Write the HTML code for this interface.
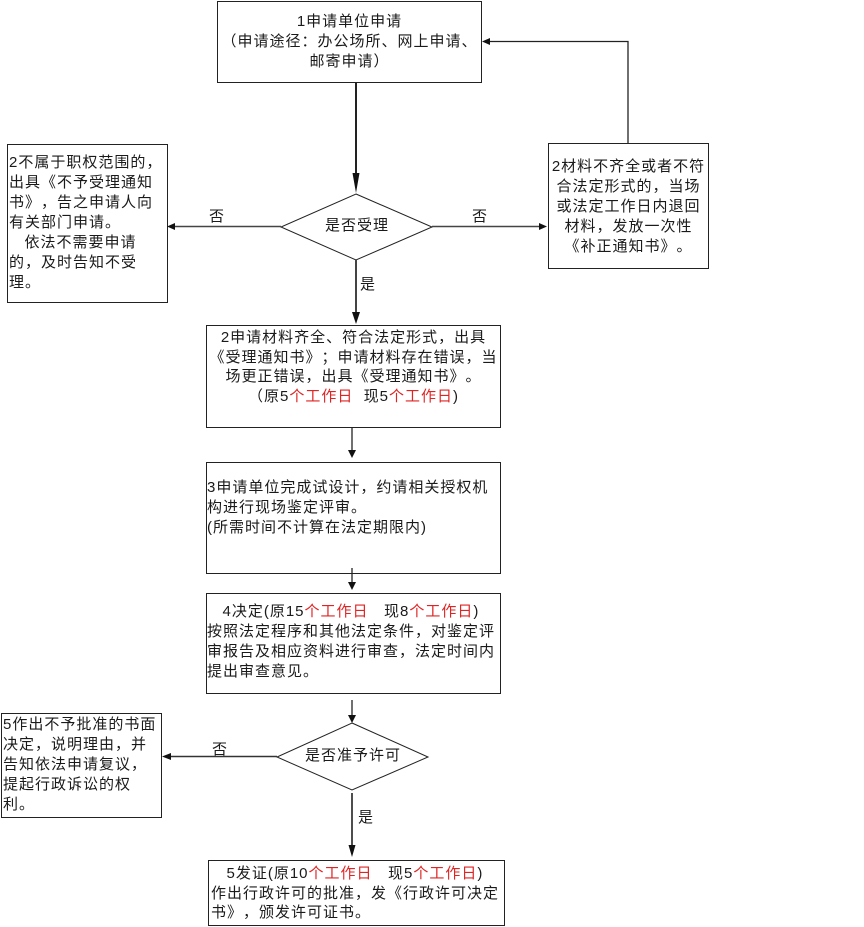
<!DOCTYPE html>
<html><head><meta charset="utf-8">
<style>
html,body{margin:0;padding:0;background:#fff;}
body{width:864px;height:927px;position:relative;overflow:hidden;font-family:"Liberation Sans","Noto Sans CJK SC",sans-serif;color:#1a1a1a;}
.t{position:absolute;font-size:15px;line-height:20px;letter-spacing:1px;white-space:nowrap;text-spacing-trim:space-all;font-kerning:none;}
.c{text-align:center;}
.r{color:#e02424;}
svg{position:absolute;left:0;top:0;}
</style></head><body>
<svg width="864" height="927" viewBox="0 0 864 927">
<g fill="#fff" stroke="#222" stroke-width="1">
<rect x="217.5" y="1.5" width="264" height="81"/>
<rect x="7.5" y="144.5" width="160" height="158"/>
<rect x="548.5" y="143.5" width="160" height="125"/>
<rect x="206.5" y="325.5" width="294" height="102"/>
<rect x="206.5" y="462.5" width="294" height="111"/>
<rect x="206.5" y="593.5" width="294" height="100"/>
<rect x="1.5" y="713.5" width="160" height="104"/>
<rect x="208.5" y="860.5" width="296" height="65"/>
<polygon points="356,194 432,227 356,260 281,227"/>
<polygon points="352,723 428,757 352,790 277,757"/>
</g>
<g stroke="#222" fill="none">
<line x1="356" y1="83" x2="356" y2="180" stroke-width="2"/>
<line x1="281" y1="226.5" x2="172" y2="226.5" stroke-width="1.5" stroke="#444"/>
<line x1="432" y1="226.5" x2="540" y2="226.5" stroke-width="1.5" stroke="#444"/>
<polyline points="628,143 628,41.5 488,41.5" stroke-width="1.3"/>
<line x1="356" y1="260" x2="356" y2="314" stroke-width="2" stroke="#444"/>
<line x1="352" y1="427" x2="352" y2="452" stroke-width="1.3"/>
<line x1="352" y1="568" x2="352" y2="584" stroke-width="1.3"/>
<line x1="352" y1="700" x2="352" y2="717" stroke-width="1.3"/>
<line x1="277" y1="756.5" x2="168" y2="756.5" stroke-width="1.5" stroke="#333"/>
<line x1="352" y1="793" x2="352" y2="848" stroke-width="1.6"/>
</g>
<g fill="#111">
<polygon points="352.5,173 359.5,173 356,193"/>
<polygon points="175,223 175,230 167,226.5"/>
<polygon points="539,223 539,230 547,226.5"/>
<polygon points="490,38 490,45 482,41.5"/>
<polygon points="352,312 360,312 356,324"/>
<polygon points="348,450 356,450 352,458"/>
<polygon points="348,582 356,582 352,590"/>
<polygon points="348,715 356,715 352,723"/>
<polygon points="171,753 171,760 162,756.5"/>
<polygon points="348.5,845 355.5,845 352,857"/>
</g>
</svg>

<div class="t c" style="left:217px;top:12px;width:265px;">1申请单位申请<br>（申请途径：办公场所、网上申请、<br>邮寄申请）</div>

<div class="t" style="left:9px;top:153px;">2不属于职权范围的，<br>出具《不予受理通知<br>书》，告之申请人向<br>有关部门申请。<br>&nbsp;&nbsp;&nbsp;依法不需要申请<br>的，及时告知不受<br>理。</div>

<div class="t c" style="left:548px;top:157px;width:161px;">2材料不齐全或者不符<br>合法定形式的，当场<br>或法定工作日内退回<br>材料，发放一次性<br>《补正通知书》。</div>

<div class="t" style="left:209px;top:207px;">否</div>
<div class="t" style="left:472px;top:207px;">否</div>
<div class="t" style="left:360px;top:275px;">是</div>
<div class="t c" style="left:281px;top:216px;width:152px;">是否受理</div>

<div class="t c" style="left:206px;top:328px;width:295px;line-height:19.7px;">2申请材料齐全、符合法定形式，出具<br>《受理通知书》；申请材料存在错误，当<br>场更正错误，出具《受理通知书》。<br>（原5<span class="r">个工作日</span>&nbsp; 现5<span class="r">个工作日</span>)</div>

<div class="t" style="left:207px;top:478px;">3申请单位完成试设计，约请相关授权机<br>构进行现场鉴定评审。<br>(所需时间不计算在法定期限内)</div>

<div class="t" style="left:207px;top:602px;">&nbsp;&nbsp;&nbsp;4决定(原15<span class="r">个工作日</span>&nbsp;&nbsp; 现8<span class="r">个工作日</span>)<br>按照法定程序和其他法定条件，对鉴定评<br>审报告及相应资料进行审查，法定时间内<br>提出审查意见。</div>

<div class="t c" style="left:277px;top:746px;width:152px;">是否准予许可</div>
<div class="t" style="left:212px;top:740px;">否</div>
<div class="t" style="left:358px;top:808px;">是</div>

<div class="t" style="left:3px;top:715px;">5作出不予批准的书面<br>决定，说明理由，并<br>告知依法申请复议，<br>提起行政诉讼的权<br>利。</div>

<div class="t" style="left:211px;top:864px;line-height:19.5px;">&nbsp;&nbsp;&nbsp;5发证(原10<span class="r">个工作日</span>&nbsp;&nbsp; 现5<span class="r">个工作日</span>)<br>作出行政许可的批准，发《行政许可决定<br>书》，颁发许可证书。</div>
</body></html>
